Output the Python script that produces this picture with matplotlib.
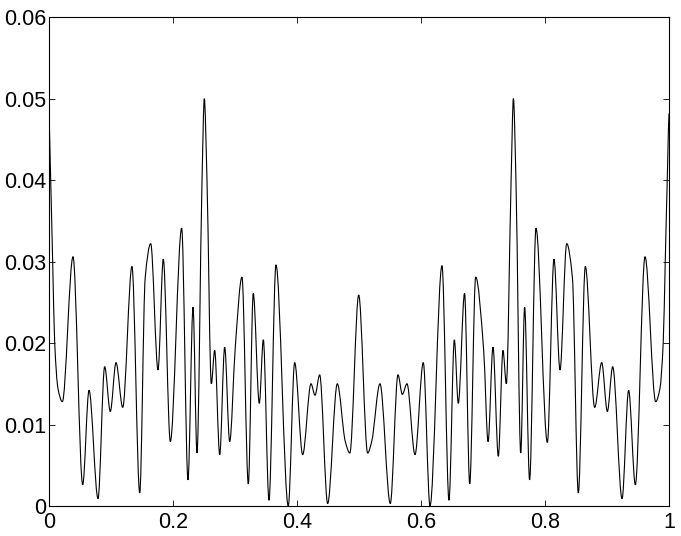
import matplotlib
matplotlib.use("Agg")
import matplotlib.pyplot as plt
import numpy as np
from matplotlib.path import Path
from matplotlib.patches import PathPatch

plt.rcParams["font.family"] = ["Liberation Sans", "DejaVu Sans"]

# points (peaks, troughs, shoulders)
x_vals = [
    0.0, 0.0032, 0.0064, 0.0097, 0.0150, 0.0220,
    0.0392, 0.0548, 0.0650, 0.0795, 0.0902, 0.0993, 0.1085, 0.1193,
    0.1342, 0.1467, 0.1555, 0.1644, 0.1762, 0.1847, 0.1960, 0.2143,
    0.2245, 0.2326, 0.2390, 0.2471, 0.2508, 0.2551, 0.2621, 0.2675,
    0.2756, 0.2836, 0.2917, 0.3007, 0.3115, 0.3217, 0.3297, 0.3394,
    0.3459, 0.3550, 0.3663, 0.3861, 0.3964, 0.4093, 0.4227, 0.4292,
    0.4367, 0.4496, 0.4651, 0.4780, 0.4853, 0.4996, 0.5140, 0.5205,
    0.5339, 0.5505, 0.5629, 0.5699, 0.5774, 0.5903, 0.6037, 0.6145,
    0.6338, 0.6451, 0.6537, 0.6601, 0.6702, 0.6785, 0.6881, 0.7010,
    0.7081, 0.7160, 0.7246, 0.7321, 0.7375, 0.7452, 0.7489, 0.7530,
    0.7607, 0.7670, 0.7750, 0.7853, 0.8036, 0.8143, 0.8240, 0.8348,
    0.8440, 0.8535, 0.8648, 0.8799, 0.8912, 0.9003, 0.9089, 0.9240,
    0.9346, 0.9454, 0.9610, 0.9782, 0.9850, 0.9903, 0.9936, 0.9968, 1.0,
]
y_vals = [
    0.0482, 0.0400, 0.0300, 0.0200, 0.0144, 0.0128,
    0.0306, 0.0026, 0.0142, 0.0009, 0.0171, 0.0116, 0.0176, 0.0121,
    0.0294, 0.0016, 0.0280, 0.0322, 0.0167, 0.0303, 0.0079, 0.0341,
    0.0032, 0.0244, 0.0065, 0.0400, 0.0500, 0.0400, 0.0150, 0.0191,
    0.0063, 0.0195, 0.0079, 0.0195, 0.0281, 0.0027, 0.0261, 0.0126,
    0.0204, 0.0007, 0.0296, 0.0000, 0.0176, 0.0063, 0.0150, 0.0136,
    0.0161, 0.0003, 0.0150, 0.0079, 0.0065, 0.0259, 0.0065, 0.0079,
    0.0150, 0.0003, 0.0161, 0.0137, 0.0150, 0.0063, 0.0176, 0.0000,
    0.0295, 0.0007, 0.0204, 0.0126, 0.0261, 0.0027, 0.0281, 0.0191,
    0.0079, 0.0195, 0.0061, 0.0191, 0.0150, 0.0400, 0.0500, 0.0400,
    0.0065, 0.0244, 0.0032, 0.0341, 0.0078, 0.0303, 0.0167, 0.0322,
    0.0280, 0.0016, 0.0294, 0.0121, 0.0176, 0.0116, 0.0171, 0.0009,
    0.0142, 0.0026, 0.0306, 0.0128, 0.0144, 0.0200, 0.0300, 0.0400, 0.0482,
]

x_ticks = [0, 0.2, 0.4, 0.6, 0.8, 1]
x_labels = ["0", "0.2", "0.4", "0.6", "0.8", "1"]
y_ticks = [0, 0.01, 0.02, 0.03, 0.04, 0.05, 0.06]
y_labels = ["0", "0.01", "0.02", "0.03", "0.04", "0.05", "0.06"]

fig = plt.figure(figsize=(6.81, 5.36), dpi=100)
ax = fig.add_axes([0.0715, 0.056, 0.9112, 0.912])

# smooth bezier path through the read points (monotone tangents,
# flat at peaks/troughs so the curve does not overshoot)
xs = np.array(x_vals)
ys = np.array(y_vals)
h = np.diff(xs)
d = np.diff(ys) / h
m = np.zeros_like(xs)
for k in range(1, len(xs) - 1):
    if d[k - 1] * d[k] > 0:
        m[k] = 3 * (h[k - 1] + h[k]) / ((2 * h[k] + h[k - 1]) / d[k - 1]
                                        + (h[k] + 2 * h[k - 1]) / d[k])
verts = [(xs[0], ys[0])]
codes = [Path.MOVETO]
for k in range(len(xs) - 1):
    verts.append((xs[k] + h[k] / 3, ys[k] + m[k] * h[k] / 3))
    verts.append((xs[k + 1] - h[k] / 3, ys[k + 1] - m[k + 1] * h[k] / 3))
    verts.append((xs[k + 1], ys[k + 1]))
    codes += [Path.CURVE4] * 3
ax.add_patch(PathPatch(Path(verts, codes), fill=False,
                       edgecolor="black", linewidth=0.8))

ax.set_xlim(0, 1)
ax.set_ylim(0, 0.06)
ax.set_xticks(x_ticks)
ax.set_xticklabels(x_labels)
ax.set_yticks(y_ticks)
ax.set_yticklabels(y_labels)
ax.tick_params(axis="both", direction="in", length=4, width=0.6,
               top=True, right=True, labelsize=15.5, colors="black")
ax.tick_params(axis="x", pad=4)
ax.tick_params(axis="y", pad=2)
for s in ax.spines.values():
    s.set_linewidth(0.8)

fig.savefig("out.png", dpi=100)
